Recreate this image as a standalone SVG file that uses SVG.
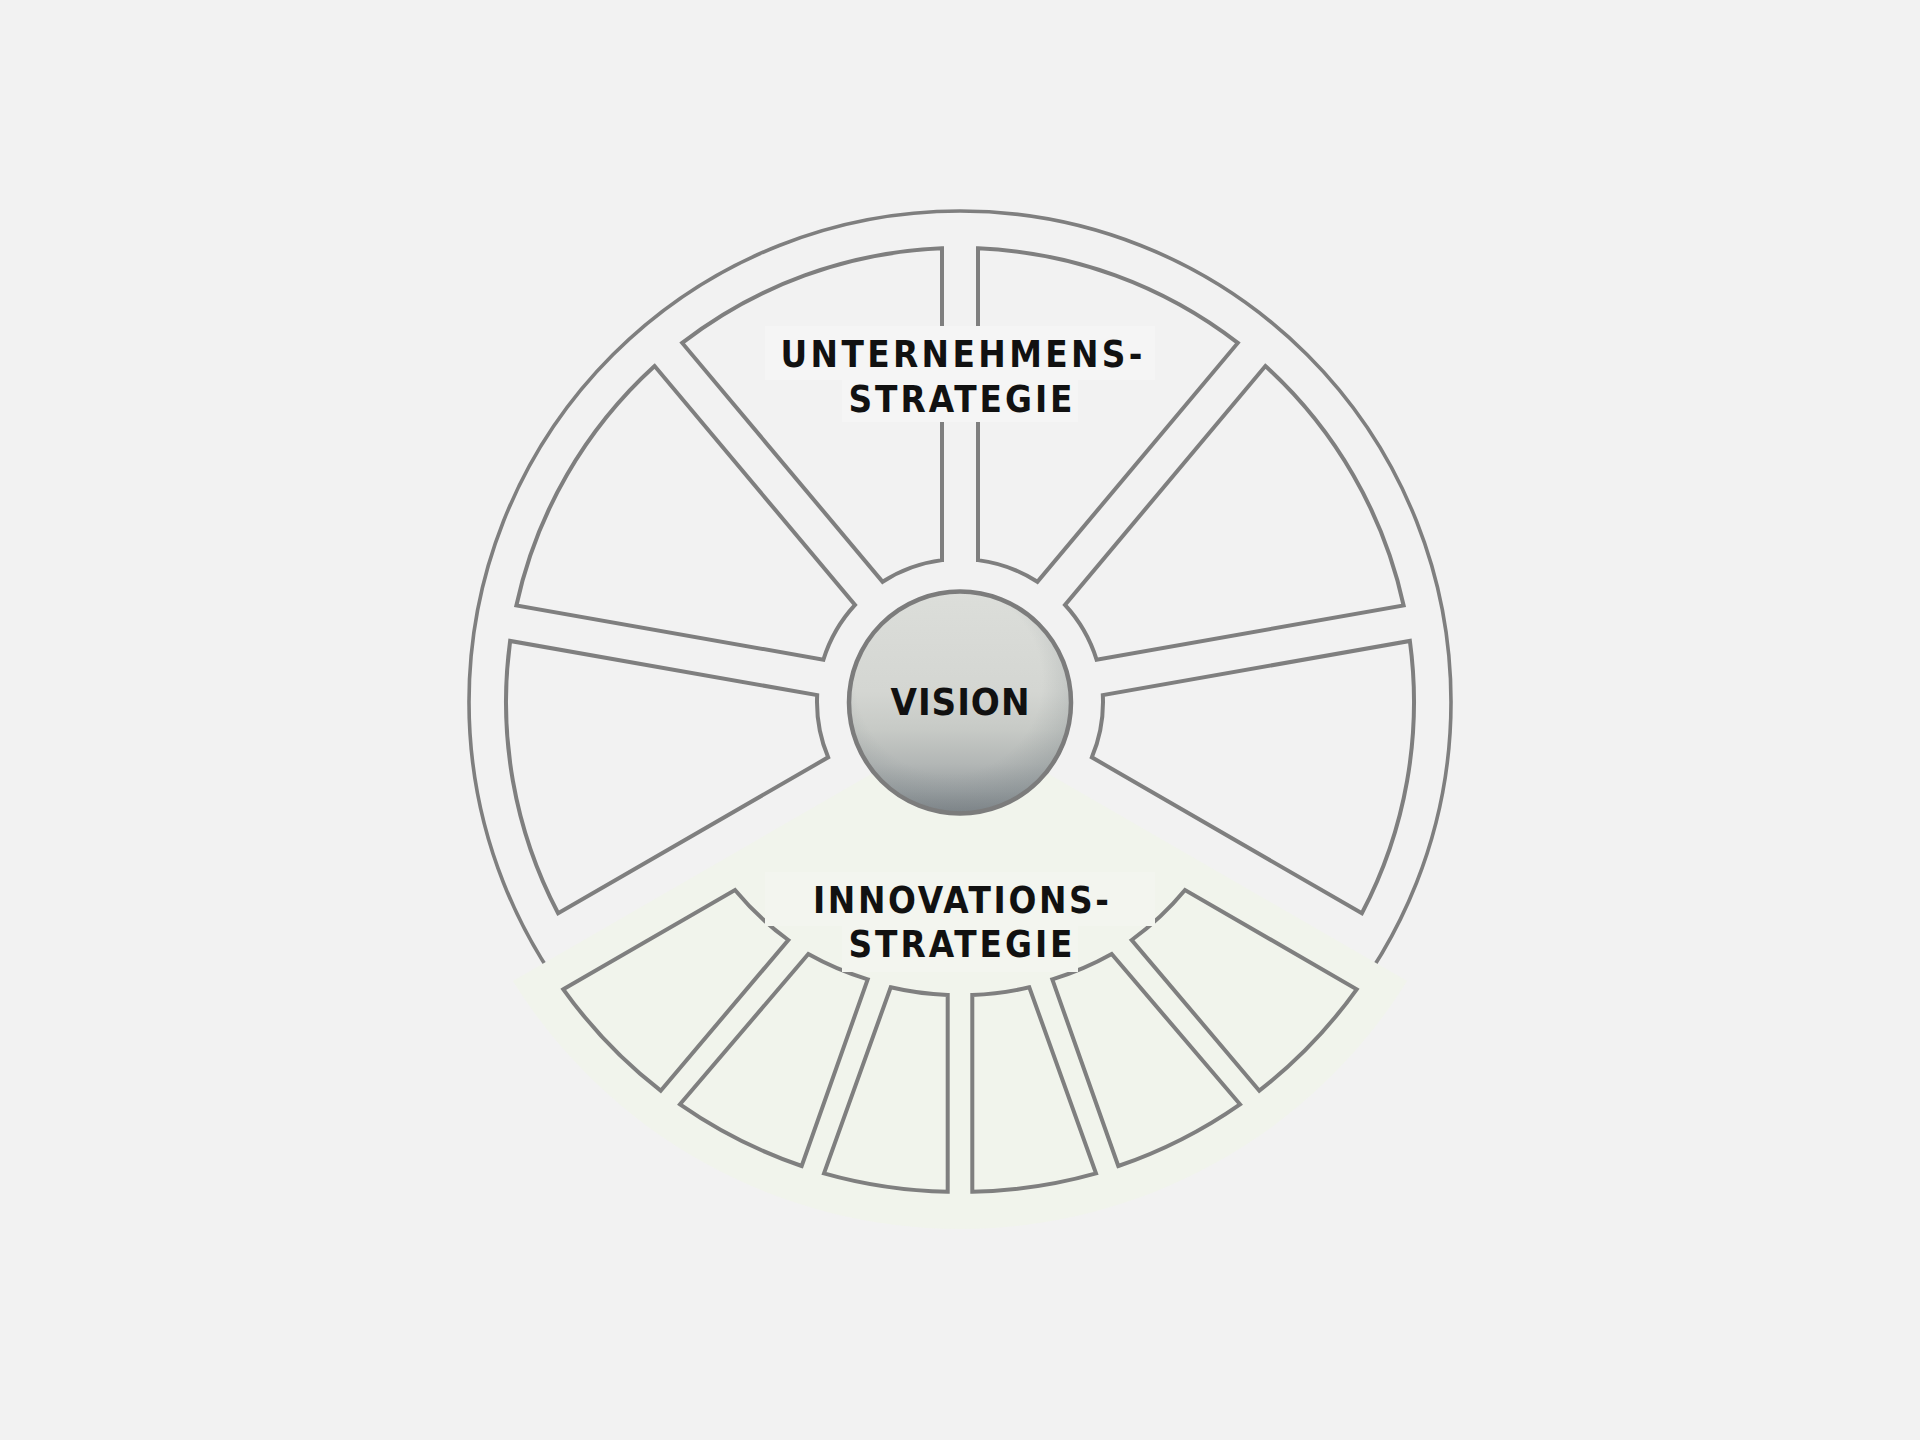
<svg xmlns="http://www.w3.org/2000/svg" width="1920" height="1440" viewBox="0 0 1920 1440">
  <defs>
    <linearGradient id="ballV" x1="0" y1="0" x2="0" y2="1">
      <stop offset="0" stop-color="#dcdeda"/>
      <stop offset="0.45" stop-color="#d4d6d2"/>
      <stop offset="0.62" stop-color="#c7cac6"/>
      <stop offset="0.78" stop-color="#b2b6b5"/>
      <stop offset="0.9" stop-color="#989ea0"/>
      <stop offset="1" stop-color="#7d8387"/>
    </linearGradient>
    <radialGradient id="ballShade" cx="45%" cy="40%" r="60%">
      <stop offset="0.7" stop-color="#7a8488" stop-opacity="0"/>
      <stop offset="1" stop-color="#7a8488" stop-opacity="0.28"/>
    </radialGradient>
  </defs>
  <style>
    .seg { fill: none; stroke: #7f7f7f; stroke-width: 4; stroke-linejoin: miter; }
    .ring { fill: none; stroke: #7f7f7f; stroke-width: 3.6; }
    .lbl { font-family: "DejaVu Sans Condensed", "DejaVu Sans", "Liberation Sans", sans-serif; font-weight: bold; font-size: 36.5px; fill: #111111; text-anchor: middle; }
    .boxU { fill: #f5f5f5; }
    .boxL { fill: #f3f5ef; }
  </style>

  <rect x="0" y="0" width="1920" height="1440" fill="#f2f2f2"/>

  <g id="outer-ring">
    <circle class="ring" cx="960" cy="702" r="491"/>
  </g>

  <g id="innovation-fan">
    <path d="M 960 722.8 L 512.86 980.96 A 527 527 0 0 0 1407.14 980.96 Z" fill="#f1f4ec"/>
  </g>

  <g id="strategy-segments">
    <g id="seg-u1"><path class="seg" d="M 1361.87 913.23 A 454 454 0 0 0 1409.88 640.95 L 1102.83 695.09 A 143 143 0 0 1 1091.86 757.34 Z"/></g>
    <g id="seg-u2"><path class="seg" d="M 1403.63 605.50 A 454 454 0 0 0 1265.38 366.05 L 1064.98 604.90 A 143 143 0 0 1 1096.58 659.64 Z"/></g>
    <g id="seg-u3"><path class="seg" d="M 1237.81 342.92 A 454 454 0 0 0 978.00 248.36 L 978.00 560.14 A 143 143 0 0 1 1037.40 581.76 Z"/></g>
    <g id="seg-u4"><path class="seg" d="M 942.00 248.36 A 454 454 0 0 0 682.19 342.92 L 882.60 581.76 A 143 143 0 0 1 942.00 560.14 Z"/></g>
    <g id="seg-u5"><path class="seg" d="M 654.62 366.05 A 454 454 0 0 0 516.37 605.50 L 823.42 659.64 A 143 143 0 0 1 855.02 604.90 Z"/></g>
    <g id="seg-u6"><path class="seg" d="M 510.12 640.95 A 454 454 0 0 0 558.13 913.23 L 828.14 757.34 A 143 143 0 0 1 817.17 695.09 Z"/></g>
  </g>

  <g id="label-unternehmensstrategie">
    <rect class="boxU" x="765" y="326" width="390" height="54"/>
    <rect class="boxU" x="842" y="380" width="236" height="42"/>
    <text class="lbl" x="961.5" y="367.3" textLength="362" lengthAdjust="spacing">UNTERNEHMENS-</text>
    <text class="lbl" x="960.5" y="411.7" textLength="224" lengthAdjust="spacing">STRATEGIE</text>
  </g>

  <g id="innovation-segments">
    <g id="seg-l1"><path class="seg" d="M 563.3 989.3 L 735 890 A 293.5 293.5 0 0 0 788.3 940 L 660.7 1090.7 A 490 490 0 0 1 563.3 989.3 Z"/></g>
    <g id="seg-l2"><path class="seg" d="M 680 1104.3 L 808.3 954 A 293.5 293.5 0 0 0 867.7 979.3 L 801.7 1166 A 490 490 0 0 1 680 1104.3 Z"/></g>
    <g id="seg-l3"><path class="seg" d="M 824 1173.3 L 890.7 987.3 A 293.5 293.5 0 0 0 947.7 995 L 947.7 1191.7 A 490 490 0 0 1 824 1173.3 Z"/></g>
    <g id="seg-r3"><path class="seg" d="M 972.3 1191.7 L 972.3 995 A 293.5 293.5 0 0 0 1029.3 987.3 L 1096 1173.3 A 490 490 0 0 1 972.3 1191.7 Z"/></g>
    <g id="seg-r2"><path class="seg" d="M 1118.3 1166 L 1052.3 979.3 A 293.5 293.5 0 0 0 1111.7 954 L 1240 1104.3 A 490 490 0 0 1 1118.3 1166 Z"/></g>
    <g id="seg-r1"><path class="seg" d="M 1259.3 1090.7 L 1131.7 940 A 293.5 293.5 0 0 0 1185 890 L 1356.7 989.3 A 490 490 0 0 1 1259.3 1090.7 Z"/></g>
  </g>

  <g id="label-innovationsstrategie">
    <rect class="boxL" x="765" y="872" width="390" height="54"/>
    <rect class="boxL" x="842" y="926" width="236" height="46"/>
    <text class="lbl" x="961" y="913.3" textLength="296" lengthAdjust="spacing">INNOVATIONS-</text>
    <text class="lbl" x="960.5" y="956.7" textLength="224" lengthAdjust="spacing">STRATEGIE</text>
  </g>

  <g id="vision">
    <circle cx="960" cy="702.5" r="111" fill="url(#ballV)"/>
    <circle cx="960" cy="702.5" r="111" fill="url(#ballShade)" stroke="#7c7c7c" stroke-width="4.5"/>
    <text class="lbl" x="960" y="715" style="font-size:38px" textLength="139" lengthAdjust="spacing">VISION</text>
  </g>

  <g id="connectors"/>
</svg>
